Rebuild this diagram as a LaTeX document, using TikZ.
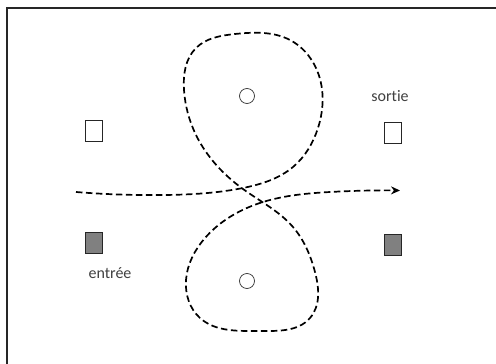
\documentclass[tikz,border=0pt]{standalone}
\usepackage{fontspec}
\setmainfont[Ligatures=NoCommon]{Carlito}
\usetikzlibrary{arrows.meta,hobby}
\tikzset{
  door/.style={draw=black!85, line width=0.9pt, minimum width=17pt, minimum height=21pt, inner sep=0pt},
  pillar/.style={circle, draw=black!80, line width=0.7pt, minimum size=15pt, inner sep=0pt},
  lbl/.style={text=black!75, font=\fontsize{16}{19}\selectfont, inner sep=0pt},
  flow/.style={line width=1.7pt, dash pattern=on 6.5pt off 3.5pt, line cap=butt}
}
\begin{document}
\begin{tikzpicture}[x=1pt,y=-1pt]
\useasboundingbox (0,0) rectangle (496,364);
\begin{scope}
\clip (0,0) rectangle (496,364);
\draw[line width=2pt, black!85] (7,8) rectangle (510,380);
\end{scope}
\node[door, fill=white] (inW) at (93.5,131) {};
\node[door, fill=black!50] (inG) at (93.5,243) {};
\node[door, fill=white] (outW) at (392.5,133) {};
\node[door, fill=black!50] (outG) at (392.5,245) {};
\node[lbl] (sortie) at (390,96) {sortie};
\node[lbl] (entree) at (110,273) {entrée};
\node[pillar] (p1) at (247,96) {};
\node[pillar] (p2) at (247,281) {};
\coordinate (start) at (76,192);
\coordinate (end) at (400,190.5);
\draw[flow, use Hobby shortcut, -{Stealth[length=9pt,width=8pt]}]
  (start) .. (165,195) .. (243,188) .. (293,167) .. (318,128) .. (316,68) .. (290,40) .. (235,34) .. (196,48) .. (184,90) .. (196,135) .. (243,189) .. (293,227) .. (315,272) .. (310,318) .. (260,331) .. (200,318) .. (186,280) .. (205,238) .. (263,202) .. (330,192) .. (end);
\end{tikzpicture}
\end{document}
